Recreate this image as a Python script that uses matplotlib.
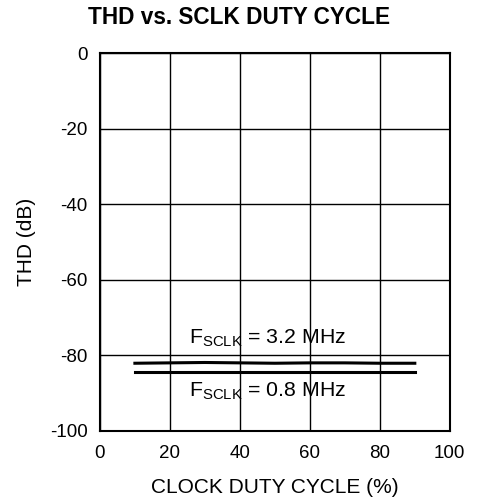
import numpy as np
import matplotlib.pyplot as plt

plt.rcParams['font.family'] = ['Liberation Sans', 'DejaVu Sans']
plt.rcParams['axes.unicode_minus'] = False

# Data
duty = [10, 20, 30, 40, 50, 60, 70, 80, 90]
thd_3p2 = [-82.1, -82.0, -81.9, -82.0, -82.1, -82.0, -82.0, -82.1, -82.1]
thd_0p8 = [-84.4, -84.4, -84.4, -84.4, -84.4, -84.4, -84.4, -84.4, -84.4]

x_ticks = [0, 20, 40, 60, 80, 100]
y_ticks = [0, -20, -40, -60, -80, -100]

fig = plt.figure(figsize=(4.78, 5.01), dpi=100)
ax = fig.add_axes([0.209, 0.140, 0.732, 0.754])

ax.plot(duty, thd_3p2, color='black', linewidth=2.2)
ax.plot(duty, thd_0p8, color='black', linewidth=2.2)

ax.set_xlim(0, 100)
ax.set_ylim(-100, 0)
ax.set_xticks(x_ticks)
ax.set_yticks(y_ticks)
ax.tick_params(length=0, labelsize=13.5)
ax.tick_params(axis='y', pad=9)
ax.tick_params(axis='x', pad=10.5)
ax.grid(True, color='black', linewidth=1.0)
for s in ax.spines.values():
    s.set_linewidth(1.5)

ax.text(48, -75.5, r'F$_{\mathregular{SCLK}}$ = 3.2 MHz', ha='center', va='center', fontsize=15.3)
ax.text(48, -89.5, r'F$_{\mathregular{SCLK}}$ = 0.8 MHz', ha='center', va='center', fontsize=15.3)

ax.set_xlabel('CLOCK DUTY CYCLE (%)', fontsize=15, labelpad=11)
ax.set_ylabel('THD (dB)', fontsize=15, labelpad=10)
fig.suptitle('THD vs. SCLK DUTY CYCLE', fontsize=16.3, fontweight='bold', x=0.5, y=0.988)

plt.savefig('out.png', dpi=100)
